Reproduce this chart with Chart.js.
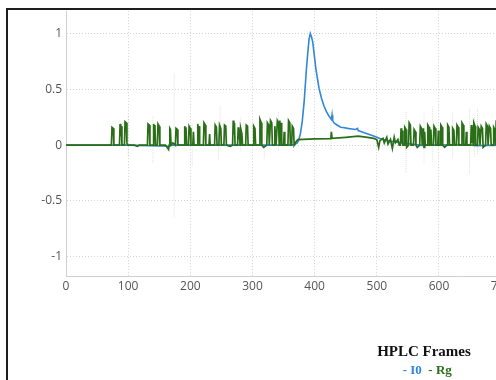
<!DOCTYPE html>
<html>
<head>
<meta charset="utf-8">
<script src="https://cdn.jsdelivr.net/npm/chart.js@4"></script>
<style>
html, body { margin: 0; padding: 0; background: #fff; overflow: hidden; }
#wrap { position: relative; width: 496px; height: 380px; overflow: hidden; }
#chart { position: absolute; left: 0; top: 0; }
#frame { position: absolute; left: 6px; top: 8px; width: 600px; height: 400px;
         border-left: 2px solid #1e1e1e; border-top: 2px solid #1e1e1e; pointer-events: none; }
</style>
</head>
<body>
<div id="wrap">
  <canvas id="chart" width="848" height="400"></canvas>
  <div id="frame"></div>
</div>
<script>
// [frame, value]
const i0Series = [
  [0, 0], [100, 0], [166, -0.01], [168, 0], [300, 0], [360, 0], [368, 0.005], [372, 0.02],
  [374, 0.04], [377, 0.1], [380, 0.21], [383, 0.38], [385, 0.54], [387, 0.7], [389, 0.83],
  [391, 0.95], [393, 1.0], [395, 0.97], [397, 0.92], [400, 0.78], [402, 0.68], [405, 0.58],
  [407, 0.51], [411, 0.42], [415, 0.35], [419, 0.3], [423, 0.26], [427, 0.23], [428, 0.27],
  [429, 0.22], [431, 0.2], [436, 0.18], [442, 0.16], [448, 0.155], [453, 0.15], [460, 0.145],
  [466, 0.14], [469, 0.15], [470, 0.13], [473, 0.125], [480, 0.11], [488, 0.095], [496, 0.08],
  [505, 0.06], [517, 0.04], [528, 0.03], [539, 0.02], [555, 0.01], [575, -0.005], [580, 0],
  [600, 0], [640, 0.005], [660, -0.005], [700, 0], [720, 0]
];

const rgSeries = [
  [0, 0], [73, 0], [74, 0.16], [76, 0.15], [77, 0], [86, 0], [87, 0.19], [88, 0.08], [89, 0.17],
  [90, 0], [94, 0], [95, 0.21], [97, 0.2], [98, 0.02], [99, 0], [110, 0], [115, -0.01], [118, 0],
  [131, 0], [132, 0.19], [134, 0.18], [135, 0], [140, 0], [141, 0.19], [142, 0.05], [143, 0.18],
  [144, 0], [147, 0], [148, 0.19], [150, 0.17], [151, 0], [160, 0], [165, -0.04], [166, 0],
  [167, 0.15], [168, 0.14], [169, 0], [172, 0.02], [176, 0], [177, 0.15], [179, 0.14], [180, 0],
  [190, 0], [191, 0.17], [192, 0.1], [193, 0.16], [194, 0], [197, 0], [198, 0.17], [200, 0.15],
  [201, 0], [204, 0], [205, 0.12], [206, 0], [211, 0], [212, 0.19], [213, 0.1], [214, 0.17],
  [215, 0], [221, 0], [222, 0.2], [224, 0.18], [225, 0], [230, 0], [231, 0.1], [232, 0],
  [239, 0], [240, 0.18], [242, 0.16], [243, 0], [246, 0], [247, 0.18], [249, 0.15], [250, 0],
  [254, 0], [255, 0.18], [257, 0.17], [258, 0], [264, -0.01], [268, 0], [269, 0.22], [270, 0.1],
  [271, 0.2], [272, 0], [276, 0], [277, 0.16], [278, 0.05], [279, 0.14], [280, 0], [281, 0.15],
  [283, 0.1], [284, 0], [289, 0], [290, 0.18], [292, 0.17], [293, 0], [301, 0], [302, 0.17],
  [304, 0.15], [305, 0], [311, 0], [312, 0.23], [314, 0.2], [315, 0], [318, -0.02], [323, 0],
  [324, 0.2], [326, 0.18], [327, 0], [328, 0], [329, 0.22], [331, 0.2], [332, 0], [335, 0],
  [336, 0.17], [337, 0.08], [338, 0], [340, 0.22], [342, 0.2], [343, 0], [344, 0.22], [345, 0.1],
  [346, 0.2], [347, 0], [350, 0], [351, 0.12], [352, 0], [357, 0], [358, 0.22], [360, 0.2],
  [361, 0], [363, 0], [364, 0.17], [366, 0.15], [367, 0], [370, 0.03], [373, 0.05],
  [400, 0.055], [426, 0.058], [427, 0.12], [428, 0.06], [450, 0.07], [470, 0.08], [485, 0.07],
  [495, 0.06], [500, 0.05], [503, -0.02], [505, 0.04], [510, 0.06], [512, 0.02], [516, 0.07],
  [518, 0.01], [522, 0.05], [525, -0.03], [528, 0.07], [530, 0.02], [534, 0.05], [536, 0],
  [538, 0], [539, 0.15], [540, 0.02], [541, 0.13], [542, 0], [544, 0], [545, 0.16], [547, 0.14],
  [548, -0.02], [551, 0], [552, 0.2], [554, 0.18], [555, 0], [559, 0], [560, 0.14], [562, 0.12],
  [563, 0], [565, -0.02], [569, 0], [570, 0.17], [572, 0.15], [573, 0], [574, 0], [575, 0.15],
  [576, -0.02], [577, 0.12], [578, 0], [581, 0], [582, 0.18], [584, 0.16], [585, 0], [586, 0],
  [587, 0.14], [588, 0], [591, 0], [592, 0.17], [594, 0.15], [595, 0], [598, 0], [599, 0.13],
  [600, 0], [602, 0], [603, 0.18], [605, 0.16], [606, 0], [609, -0.02], [613, 0], [614, 0.18],
  [616, 0.16], [617, 0], [621, 0], [622, 0.15], [624, 0.13], [625, 0], [628, 0], [629, 0.18],
  [631, 0.16], [632, 0], [636, 0], [637, 0.2], [639, 0.18], [640, 0], [643, 0], [644, 0.12],
  [645, 0], [651, 0], [652, 0.18], [653, 0.02], [654, 0.16], [655, 0], [656, 0.2], [658, 0.17],
  [659, 0], [662, 0], [663, 0.16], [665, 0.14], [666, 0], [667, 0], [668, 0.17], [670, 0.15],
  [671, -0.02], [675, 0], [676, 0.19], [678, 0.17], [679, 0], [680, 0], [681, 0.17], [683, 0.15],
  [684, 0], [687, 0], [688, 0.16], [690, 0.14], [691, 0], [692, 0.2], [694, 0.18], [695, 0],
  [700, 0], [704, 0.15], [706, 0.13], [707, 0], [715, 0], [720, 0]
];

// faint Rg error bars
const errFrames = [100, 140, 174, 203, 245, 248, 281, 319, 342, 426, 547, 576, 590, 622, 649, 657, 662];
const errLow    = [-0.1, -0.16, -0.64, -0.19, -0.13, -0.05, -0.05, -0.12, -0.05, -0.04, -0.25, -0.17, -0.15, -0.11, -0.26, -0.1, -0.08];
const errHigh   = [0.27, 0.26, 0.65, 0.2, 0.1, 0.36, 0.25, 0.22, 0.3, 0.2, 0.3, 0.3, 0.35, 0.3, 0.33, 0.25, 0.33];

const xTicks = { min: 0, max: 1258, step: 100 };
const yTicks = { min: -1.173, max: 1.2, step: 0.5 };

const blue = '#2f86dc';
const green = '#2a6e18';

const errData = [];
errFrames.forEach((f, i) => {
  errData.push({ x: f, y: errLow[i] }, { x: f, y: errHigh[i] }, { x: f, y: null });
});

const tickFont = { family: 'Open Sans', size: 12 };
const serif = { family: 'Liberation Serif', size: 13, weight: 'bold' };

new Chart(document.getElementById('chart'), {
  type: 'line',
  data: {
    datasets: [
      { label: 'I0', data: i0Series.map(p => ({ x: p[0], y: p[1] })), borderColor: blue,
        borderWidth: 1.6, pointRadius: 0, tension: 0, order: 1 },
      { label: 'Rg', data: rgSeries.map(p => ({ x: p[0], y: p[1] })), borderColor: green,
        borderWidth: 1.7, pointRadius: 0, tension: 0, order: 0 },
      { label: 'RgErr', data: errData, borderColor: 'rgba(70,150,50,0.22)', borderWidth: 1,
        borderDash: [1, 1], pointRadius: 0, spanGaps: false, order: 5 }
    ]
  },
  options: {
    responsive: false,
    animation: false,
    layout: { padding: { left: 0, top: 9, right: 0, bottom: 12.5 } },
    scales: {
      x: {
        type: 'linear', min: xTicks.min, max: xTicks.max,
        afterFit: s => { s.height = 20; },
        ticks: { stepSize: xTicks.step, includeBounds: false, padding: 3, maxRotation: 0,
                 autoSkip: false, color: '#555', font: tickFont, callback: v => String(v) },
        grid: { color: '#d2d2d2', drawTicks: false },
        border: { color: '#cfcfcf', dash: [1, 2] }
      },
      y: {
        min: yTicks.min, max: yTicks.max,
        afterFit: s => { s.width = 66; },
        ticks: { stepSize: yTicks.step, includeBounds: false, padding: 4, color: '#555',
                 font: tickFont, callback: v => String(Math.round(v * 10) / 10) },
        grid: { color: '#d2d2d2', drawTicks: false },
        border: { color: '#cfcfcf', dash: [1, 2] }
      }
    },
    plugins: {
      tooltip: { enabled: false },
      title: {
        display: true, text: 'HPLC Frames', position: 'bottom', weight: 500, color: '#111',
        font: { family: 'Liberation Serif', size: 15, weight: 'bold' },
        padding: { top: 47, bottom: 3.5 }
      },
      legend: {
        position: 'bottom',
        labels: {
          boxWidth: 0, boxHeight: 0, padding: 0, font: serif,
          generateLabels: chart => chart.data.datasets.slice(0, 2).map((d, i) => ({
            text: '- ' + d.label, fontColor: d.borderColor, fillStyle: 'rgba(0,0,0,0)',
            strokeStyle: 'rgba(0,0,0,0)', lineWidth: 0, hidden: false, datasetIndex: i
          }))
        }
      }
    }
  }
});
</script>
</body>
</html>
